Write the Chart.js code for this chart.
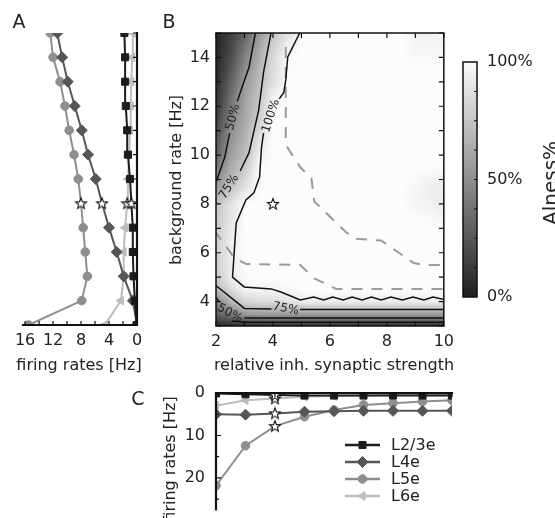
<!DOCTYPE html>
<html><head><meta charset="utf-8">
<script src="https://cdn.jsdelivr.net/npm/chart.js@4.4.1/dist/chart.umd.min.js"></script>
<style>
html,body{margin:0;padding:0;background:#fff;overflow:hidden;}
body{width:555px;height:518px;position:relative;font-family:'DejaVu Sans',sans-serif;color:#222;}
canvas{position:absolute;display:block;}
.t{position:absolute;white-space:nowrap;line-height:1;font-family:'DejaVu Sans',sans-serif;color:#222;transform:translate(-50%,-50%);}
.r{transform:translate(-50%,-50%) rotate(-90deg);}
</style></head><body>
<canvas id="cA" width="150" height="380" style="left:0;top:0;width:150px;height:380px"></canvas>
<canvas id="cB" width="310" height="380" style="left:150px;top:0;width:310px;height:380px"></canvas>
<canvas id="cBar" width="115" height="280" style="left:440px;top:40px;width:115px;height:280px"></canvas>
<canvas id="cC" width="330" height="160" style="left:130px;top:370px;width:330px;height:160px"></canvas>
<div class="t" style="left:19px;top:21px;font-size:19px">A</div>
<div class="t" style="left:169px;top:21px;font-size:19px">B</div>
<div class="t" style="left:138px;top:398px;font-size:19px">C</div>
<div class="t r" style="left:550px;top:183px;font-size:20px">Alness%</div>
<div class="t" style="left:79px;top:365px;font-size:16px">firing rates [Hz]</div>
<div class="t" style="left:334px;top:365px;font-size:16px">relative inh. synaptic strength</div>
<div class="t r" style="left:176px;top:180px;font-size:16px">background rate [Hz]</div>
<div class="t r" style="left:170px;top:459px;font-size:16px">firing rates [Hz]</div>
<script>
// ================= DATA =================
// Panel A: firing rates [Hz] vs background rate [Hz]
const bgRates = [3,4,5,6,7,8,9,10,11,12,13,14,15];
const aL23 = [0.05,0.3,0.5,0.6,0.6,0.8,1.0,1.3,1.4,1.6,1.7,1.7,1.8];
const aL4  = [0.0,0.6,1.9,2.9,4.0,5.0,5.9,7.0,7.9,8.9,9.9,10.7,11.4];
const aL5  = [15.5,7.9,7.1,7.4,7.7,8.0,8.4,9.0,9.7,10.3,11.0,12.0,12.4];
const aL6  = [4.6,2.3,1.9,1.9,1.7,1.4,1.3,1.1,1.0,0.9,0.8,0.7,0.6];
// Panel C: firing rates [Hz] vs relative inh. synaptic strength
const inhStrength = [2,3,4,5,6,7,8,9,10];
const cL23 = [0.1,0.3,0.5,0.6,0.6,0.6,0.6,0.6,0.6];
const cL4  = [5.0,5.1,4.8,4.4,4.3,4.2,4.2,4.2,4.2];
const cL5  = [21.8,12.4,7.8,5.6,4.0,2.8,2.4,2.0,1.7];
const cL6  = [3.0,1.7,1.3,0.9,0.7,0.6,0.5,0.5,0.5];
const seriesNames = ['L2/3e','L4e','L5e','L6e'];
// working point (star)
const starBg = 8;
const starStrength = 4;
// Panel B: AIness (0..1) on grid of strength (x) x background rate (y)
const hmX = [2,2.5,3,3.5,4,4.5,5,5.5,6,6.5,7,7.5,8,8.5,9,9.5,10];
const hmY = [3,3.5,4,4.5,5,5.5,6,6.5,7,7.5,8,8.5,9,9.5,10,10.5,11,11.5,12,12.5,13,13.5,14,14.5,15];
const hmValues = [
 [.04,.05,.06,.06,.06,.06,.06,.06,.06,.06,.06,.06,.06,.06,.06,.06,.06],
 [.28,.40,.55,.57,.57,.57,.57,.57,.57,.57,.57,.57,.57,.57,.57,.57,.57],
 [.45,.68,.82,.85,.86,.88,.93,.93,.93,.93,.93,.93,.93,.93,.93,.93,.93],
 [.70,.85,.95,.97,.97,.98,1,1,1,1,1,1,1,1,1,1,1],
 [.78,.92,.99,1,1,1,1,1,1,1,1,1,1,1,1,1,1],
 [.79,.93,1,1,1,1,1,1,1,1,1,1,1,1,1,1,1],
 [.80,.93,1,1,1,1,1,1,1,1,1,1,1,1,1,1,1],
 [.79,.93,1,1,1,1,1,1,1,1,1,1,1,1,1,1,1],
 [.78,.92,1,1,1,1,1,1,1,1,1,1,1,1,1,1,1],
 [.77,.90,1,1,1,1,1,1,1,1,1,1,1,1,1,.98,.96],
 [.75,.88,1,1,1,1,1,1,1,1,1,1,1,1,.97,.95,.93],
 [.62,.78,.92,1,1,1,1,1,1,1,1,1,1,1,.97,.94,.93],
 [.50,.68,.84,1,1,1,1,1,1,1,1,1,1,1,.98,.96,.95],
 [.40,.63,.78,.98,1,1,1,1,1,1,1,1,1,1,1,1,1],
 [.30,.58,.72,.96,1,1,1,1,1,1,1,1,1,1,1,1,1],
 [.25,.54,.68,.90,1,1,1,1,1,1,1,1,1,1,1,1,1],
 [.20,.50,.65,.85,1,1,1,1,1,1,1,1,1,1,1,1,1],
 [.15,.45,.62,.80,1,1,1,1,1,1,1,1,1,1,1,1,1],
 [.10,.40,.60,.76,1,1,1,1,1,1,1,1,1,1,1,1,1],
 [.08,.35,.58,.74,.94,1,1,1,1,1,1,1,1,1,1,1,1],
 [.06,.30,.55,.72,.87,1,1,1,1,1,1,1,1,1,1,1,1],
 [.05,.25,.50,.68,.86,.99,1,1,1,1,1,1,1,1,1,1,1],
 [.04,.20,.45,.65,.85,.99,1,1,1,1,1,1,1,1,.98,.98,.98],
 [.03,.17,.38,.60,.80,.94,1,1,1,1,1,1,1,1,.97,.97,.97],
 [.03,.15,.30,.55,.77,.88,1,1,1,1,1,1,1,1,.96,.96,.96]
];
// contour lines [strength, background rate]; null = gap for the inline label
const contour100 = [[4.96,15.05],[4.52,14.02],[4.45,13.08],[4.38,12.55],[4.22,12.3],null,[3.67,10.9],[3.6,10.34],[3.53,9.1],[3.33,8.45],[3.05,8.16],[2.71,7.22],[2.58,5.0],[2.99,4.6],[3.94,4.52],[4.28,4.39],[4.96,4.07],[5.43,4.19],[5.78,4.07],[6.1,4.19],[6.46,4.07],[6.78,4.19],[7.13,4.07],[7.46,4.19],[7.8,4.07],[8.14,4.19],[8.55,4.07],[8.92,4.19],[9.3,4.07],[9.62,4.19],[10.05,4.07]];
const contour75Top = [[3.94,15.05],[3.67,13.4],[3.5,11.85],[3.16,10.1],[2.85,9.35],null,[2.03,8.08],[1.95,7.98]];
const contour50Top = [[3.39,15.05],[3.16,13.6],[2.92,12.8],[2.75,12.2],null,[2.48,10.9],[2.31,9.93],[2.03,8.98],[1.95,8.8]];
const contour75Bottom = [[1.95,4.7],[3.0,3.72],[3.95,3.7],null,[4.95,3.68],[10.05,3.68]];
const contour50Bottom = [[1.95,4.22],[2.1,4.02],null,[3.0,3.33],[10.05,3.33]];
const contour25Bottom = [[2.55,3.2],[3.1,3.15],[10.05,3.15]];
const dashUpper = [[4.45,14.43],[4.45,10.42],[4.96,9.5],[5.35,9.05],[5.45,8.1],[6.56,6.85],[6.9,6.57],[7.8,6.5],[8.94,5.58],[9.28,5.5],[10.05,5.5]];
const dashLower = [[1.95,6.9],[2.65,5.78],[3.05,5.54],[4.96,5.5],[5.45,4.95],[6.22,4.52],[10.05,4.52]];
const contourLabelText = ['50%','75%','100%','75%','50%'];
const contourLabelX = [2.6,2.46,3.93,4.45,2.48];
const contourLabelY = [11.55,8.7,11.6,3.7,3.52];

// ================= STYLE / HELPERS =================
Chart.defaults.font.family = "'DejaVu Sans', sans-serif";
Chart.defaults.font.size = 16;
Chart.defaults.color = '#222';
Chart.defaults.animation = false;
const labelAngles = [-75,-58,-72,12,28];
const seriesStyle = [
  {color:'#1c1c1c', pointStyle:'rect', radius:5, rotation:0},
  {color:'#565656', pointStyle:'rectRot', radius:5.5, rotation:0},
  {color:'#8e8e8e', pointStyle:'circle', radius:4.3, rotation:0},
  {color:'#bdbdbd', pointStyle:'triangle', radius:5, rotation:-90}
];
function gray(v){ const g = Math.round(32 + Math.max(0,Math.min(1,v))*220); return [g,g,g]; }
function grayCss(v){ const g=gray(v); return 'rgb('+g[0]+','+g[1]+','+g[2]+')'; }
function makeStar(){
  const c=document.createElement('canvas'); c.width=14; c.height=14;
  const g=c.getContext('2d'); g.beginPath();
  for(let k=0;k<10;k++){ const r=k%2?2.5:5.8; const a=-Math.PI/2+k*Math.PI/5; g.lineTo(7+r*Math.cos(a),7.4+r*Math.sin(a)); }
  g.closePath(); g.fillStyle='#fff'; g.fill(); g.lineWidth=1.1; g.strokeStyle='#111'; g.stroke();
  return c;
}
const starImg = makeStar();
function toPts(arr){ const out=[]; let px=arr[0][0]; arr.forEach(p=>{ if(p===null){ out.push({x:px,y:null}); } else { px=p[0]; out.push({x:p[0],y:p[1]}); } }); return out; }
function seriesDS(label, pts, st, starIdx){
  return {label, data:pts, showLine:true, borderColor:st.color, backgroundColor:st.color,
    pointBorderColor:st.color, borderWidth:2, pointBorderWidth:1, pointRadius:st.radius,
    pointStyle: c => c.dataIndex===starIdx ? starImg : st.pointStyle,
    pointRotation: c => c.dataIndex===starIdx ? 0 : st.rotation, _st:st};
}
const noGrid = {display:false, drawTicks:false};
function frame(chart, sides, lw){
  const a=chart.chartArea, ctx=chart.ctx; ctx.save(); ctx.strokeStyle='#111'; ctx.lineWidth=lw; ctx.lineCap='square'; ctx.beginPath();
  if(sides.includes('top')){ctx.moveTo(a.left,a.top);ctx.lineTo(a.right,a.top);}
  if(sides.includes('bottom')){ctx.moveTo(a.left,a.bottom);ctx.lineTo(a.right,a.bottom);}
  if(sides.includes('left')){ctx.moveTo(a.left,a.top);ctx.lineTo(a.left,a.bottom);}
  if(sides.includes('right')){ctx.moveTo(a.right,a.top);ctx.lineTo(a.right,a.bottom);}
  ctx.stroke(); ctx.restore();
}
function tickMarks(chart, id, side, lenFn, lw){
  const s=chart.scales[id], a=chart.chartArea, ctx=chart.ctx; ctx.save(); ctx.strokeStyle='#111'; ctx.lineWidth=lw||1.2; ctx.beginPath();
  s.ticks.forEach(t=>{ const L=lenFn(t.value); if(!L) return; const p=s.getPixelForValue(t.value);
    if(side==='bottom'){ctx.moveTo(p,a.bottom);ctx.lineTo(p,a.bottom-L);}
    if(side==='top'){ctx.moveTo(p,a.top);ctx.lineTo(p,a.top+L);}
    if(side==='left'){ctx.moveTo(a.left,p);ctx.lineTo(a.left+L,p);}
    if(side==='right'){ctx.moveTo(a.right,p);ctx.lineTo(a.right-L,p);} });
  ctx.stroke(); ctx.restore();
}
const baseOpts = {responsive:false, devicePixelRatio:1, animation:false, plugins:{legend:{display:false}, tooltip:{enabled:false}}};

// ================= PANEL A =================
const starIdxA = bgRates.indexOf(starBg);
const aSeries = [aL23,aL4,aL5,aL6];
new Chart(document.getElementById('cA'), {
  type:'scatter',
  data:{datasets: aSeries.map((s,k)=>seriesDS(seriesNames[k], s.map((r,i)=>({x:r,y:bgRates[i]})), seriesStyle[k], starIdxA))},
  options:Object.assign({}, baseOpts, {
    layout:{padding:{left:23, top:33, right:0, bottom:0}},
    scales:{
      x:{type:'linear', reverse:true, min:0, max:16.3, grid:noGrid, border:{display:false},
         ticks:{stepSize:2, includeBounds:false, autoSkip:false, maxRotation:0, padding:6, callback:v=> v%4===0 ? String(v) : ''},
         afterFit:s=>{s.height=55;}},
      y:{type:'linear', position:'right', min:3, max:15, grid:noGrid, border:{display:false},
         ticks:{display:false, stepSize:1}, afterFit:s=>{s.width=13;}}
    }
  }),
  plugins:[{id:'aFrame', afterDraw(ch){ frame(ch,['bottom','right'],2.2); tickMarks(ch,'x','bottom',()=>4); tickMarks(ch,'y','right',()=>4); }}]
});

// ================= PANEL B =================
const heatPlugin = {id:'heat', beforeDatasetsDraw(ch){
  const {ctx, chartArea:a, scales:{x,y}} = ch; const nx=hmX.length, ny=hmY.length;
  const off=document.createElement('canvas'); off.width=nx; off.height=ny; const o=off.getContext('2d');
  const img=o.createImageData(nx,ny);
  for(let j=0;j<ny;j++) for(let i=0;i<nx;i++){ const g=gray(hmValues[j][i]); const idx=((ny-1-j)*nx+i)*4; img.data[idx]=g[0]; img.data[idx+1]=g[1]; img.data[idx+2]=g[2]; img.data[idx+3]=255; }
  o.putImageData(img,0,0);
  const dx=hmX[1]-hmX[0], dy=hmY[1]-hmY[0];
  const x0=x.getPixelForValue(hmX[0]-dx/2), x1=x.getPixelForValue(hmX[nx-1]+dx/2);
  const y0=y.getPixelForValue(hmY[ny-1]+dy/2), y1=y.getPixelForValue(hmY[0]-dy/2);
  ctx.save(); ctx.beginPath(); ctx.rect(a.left,a.top,a.width,a.height); ctx.clip();
  ctx.imageSmoothingEnabled=true; ctx.imageSmoothingQuality='low';
  ctx.drawImage(off,x0,y0,x1-x0,y1-y0); ctx.restore();
}};
const clabelPlugin = {id:'clabel', afterDatasetsDraw(ch){
  const {ctx, scales:{x,y}} = ch; ctx.save(); ctx.font="12px 'DejaVu Sans'"; ctx.fillStyle='#222'; ctx.textAlign='center'; ctx.textBaseline='middle';
  contourLabelText.forEach((t,i)=>{ ctx.save(); ctx.translate(x.getPixelForValue(contourLabelX[i]), y.getPixelForValue(contourLabelY[i])); ctx.rotate(labelAngles[i]*Math.PI/180); ctx.fillText(t,0,0); ctx.restore(); });
  ctx.restore();
}};
function cline(arr, color, width, dash){ return {data:toPts(arr), showLine:true, spanGaps:false, borderColor:color, borderWidth:width, borderDash:dash||[], pointRadius:0, tension:0}; }
new Chart(document.getElementById('cB'), {
  type:'scatter',
  data:{datasets:[
    cline(contour100,'#111',1.5), cline(contour75Top,'#111',1.5), cline(contour50Top,'#111',1.5),
    cline(contour75Bottom,'#111',1.5), cline(contour50Bottom,'#111',1.5), cline(contour25Bottom,'#111',1.5),
    cline(dashUpper,'#9a9a9a',2,[11,9]), cline(dashLower,'#9a9a9a',2,[11,9]),
    {data:[{x:starStrength,y:starBg}], pointStyle:starImg, pointRadius:6, showLine:false}
  ]},
  options:Object.assign({}, baseOpts, {
    layout:{padding:{left:0, top:33, right:8, bottom:0}},
    scales:{
      x:{type:'linear', min:2, max:10, grid:noGrid, border:{display:false},
         ticks:{stepSize:1, autoSkip:false, maxRotation:0, padding:6, callback:v=> v%2===0 ? String(v) : ''},
         afterFit:s=>{s.height=54;}},
      y:{type:'linear', min:3, max:15, grid:noGrid, border:{display:false},
         ticks:{stepSize:1, autoSkip:false, padding:6, callback:v=> v%2===0 ? String(v) : ''},
         afterFit:s=>{s.width=66;}}
    }
  }),
  plugins:[heatPlugin, clabelPlugin, {id:'bFrame', afterDraw(ch){ frame(ch,['top','bottom','left','right'],1.5);
    tickMarks(ch,'x','bottom',()=>5); tickMarks(ch,'x','top',()=>5); tickMarks(ch,'y','left',()=>5); tickMarks(ch,'y','right',()=>5); }}]
});

// ================= COLORBAR =================
new Chart(document.getElementById('cBar'), {
  type:'scatter', data:{datasets:[]},
  options:Object.assign({}, baseOpts, {
    layout:{padding:{left:23, top:22, right:0, bottom:23}},
    scales:{
      x:{type:'linear', display:false, min:0, max:1},
      y:{type:'linear', position:'right', min:0, max:100, grid:noGrid, border:{display:false},
         ticks:{stepSize:12.5, autoSkip:false, padding:10, callback:v=> v%50===0 ? v+'%' : ''},
         afterFit:s=>{s.width=78;}}
    }
  }),
  plugins:[{id:'cbar', afterDraw(ch){
    const {ctx, chartArea:a, scales:{y}} = ch;
    const grd=ctx.createLinearGradient(0,y.getPixelForValue(0),0,y.getPixelForValue(100));
    for(let k=0;k<=10;k++) grd.addColorStop(k/10, grayCss(k/10));
    ctx.save(); ctx.fillStyle=grd; ctx.fillRect(a.left,a.top,a.width,a.height);
    ctx.strokeStyle='#111'; ctx.lineWidth=1.5; ctx.strokeRect(a.left,a.top,a.width,a.height); ctx.restore();
    tickMarks(ch,'y','right',v=> (v>0 && v<100) ? 3 : 0, 1);
  }}]
});

// ================= PANEL C =================
const starIdxC = inhStrength.indexOf(starStrength);
const cSeries = [cL23,cL4,cL5,cL6];
const legendPlugin = {id:'leg', afterDraw(ch){
  const ctx=ch.ctx; ctx.save(); ctx.font="16px 'DejaVu Sans'"; ctx.textBaseline='middle'; ctx.textAlign='left';
  ch.data.datasets.forEach((d,k)=>{ const st=d._st; const yy=75+k*17;
    ctx.strokeStyle=st.color; ctx.lineWidth=2.5; ctx.beginPath(); ctx.moveTo(215,yy); ctx.lineTo(250,yy); ctx.stroke();
    ctx.fillStyle=st.color; ctx.strokeStyle=st.color; ctx.lineWidth=1;
    Chart.helpers.drawPoint(ctx,{pointStyle:st.pointStyle, rotation:st.rotation, radius:st.radius, borderWidth:1},232.5,yy);
    ctx.fillStyle='#222'; ctx.fillText(d.label,261,yy+1); });
  ctx.restore();
}};
new Chart(document.getElementById('cC'), {
  type:'scatter',
  data:{datasets: cSeries.map((s,k)=>seriesDS(seriesNames[k], s.map((r,i)=>({x:inhStrength[i],y:r})), seriesStyle[k], starIdxC))},
  options:Object.assign({}, baseOpts, {
    layout:{padding:{left:0, top:23, right:8, bottom:0}},
    scales:{
      x:{type:'linear', display:false, min:2, max:10, ticks:{stepSize:1}},
      y:{type:'linear', reverse:true, min:0, max:27.4, grid:noGrid, border:{display:false},
         ticks:{stepSize:5, includeBounds:false, autoSkip:false, padding:11, callback:v=> v%10===0 ? String(v) : ''},
         afterFit:s=>{s.width=86;}}
    }
  }),
  plugins:[legendPlugin, {id:'cFrame', afterDraw(ch){ frame(ch,['top','left'],2.2);
    tickMarks(ch,'y','left',v=> v%10===0 ? 5 : 3); tickMarks(ch,'x','top',()=>4); }}]
});
</script>
</body></html>
